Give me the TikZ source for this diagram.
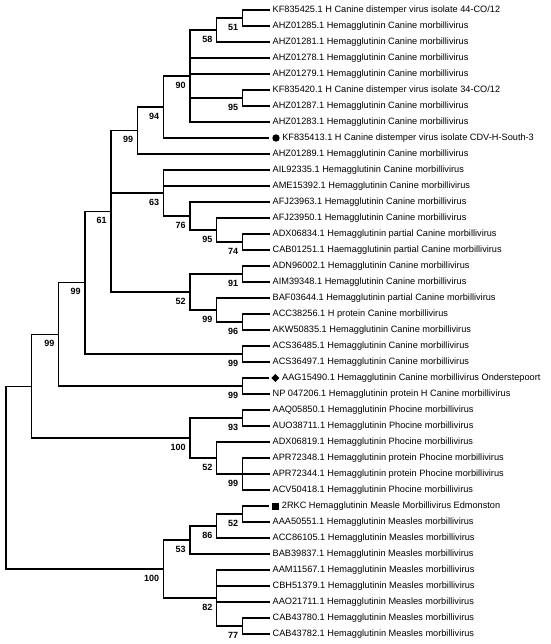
\documentclass[tikz,border=0pt]{standalone}
\usepackage{fontspec}
\setmainfont{Liberation Sans}
\usetikzlibrary{positioning}
\usetikzlibrary{shapes.geometric}
\tikzset{every picture/.style={line width=1.3pt}}
\tikzset{
  leaf/.style={anchor=west,inner xsep=2.5pt,inner ysep=0pt,text height=6.6pt,text depth=1.9pt,font=\fontsize{9.2}{11}\selectfont},
  mleaf/.style={leaf,inner xsep=0pt},
  boot/.style={inner sep=0pt,font=\bfseries\fontsize{9}{10}\selectfont},
  tipmark/.style={fill=black,draw=none,inner sep=0pt},
  tomark/.style={shorten >=2.5pt}
}

\begin{document}
\begin{tikzpicture}[x=1pt,y=1pt,yscale=-1,xscale=1]
\useasboundingbox (0,0) rectangle (550,644);

% Leaf Text Nodes
\node[leaf] (l1) at (269.5,10) {KF835425.1 H Canine distemper virus isolate 44-CO/12};
\node[leaf] (l2) at (269.5,26) {AHZ01285.1 Hemagglutinin Canine morbillivirus};
\node[leaf] (l3) at (269.5,42) {AHZ01281.1 Hemagglutinin Canine morbillivirus};
\node[leaf] (l4) at (269.5,58) {AHZ01278.1 Hemagglutinin Canine morbillivirus};
\node[leaf] (l5) at (269.5,74) {AHZ01279.1 Hemagglutinin Canine morbillivirus};
\node[leaf] (l6) at (269.5,90) {KF835420.1 H Canine distemper virus isolate 34-CO/12};
\node[leaf] (l7) at (269.5,106) {AHZ01287.1 Hemagglutinin Canine morbillivirus};
\node[leaf] (l8) at (269.5,122) {AHZ01283.1 Hemagglutinin Canine morbillivirus};
\node[tipmark,circle,minimum size=7.4pt] (m9) at (276,138) {};
\node[mleaf,right=1.3pt of m9] (l9) {KF835413.1 H Canine distemper virus isolate CDV-H-South-3};
\node[leaf] (l10) at (269.5,154) {AHZ01289.1 Hemagglutinin Canine morbillivirus};
\node[leaf] (l11) at (269.5,170) {AIL92335.1 Hemagglutinin Canine morbillivirus};
\node[leaf] (l12) at (269.5,186) {AME15392.1 Hemagglutinin Canine morbillivirus};
\node[leaf] (l13) at (269.5,202) {AFJ23963.1 Hemagglutinin Canine morbillivirus};
\node[leaf] (l14) at (269.5,218) {AFJ23950.1 Hemagglutinin Canine morbillivirus};
\node[leaf] (l15) at (269.5,234) {ADX06834.1 Hemagglutinin partial Canine morbillivirus};
\node[leaf] (l16) at (269.5,250) {CAB01251.1 Haemagglutinin partial Canine morbillivirus};
\node[leaf] (l17) at (269.5,266) {ADN96002.1 Hemagglutinin Canine morbillivirus};
\node[leaf] (l18) at (269.5,282) {AIM39348.1 Hemagglutinin Canine morbillivirus};
\node[leaf] (l19) at (269.5,298) {BAF03644.1 Hemagglutinin partial Canine morbillivirus};
\node[leaf] (l20) at (269.5,314) {ACC38256.1 H protein Canine morbillivirus};
\node[leaf] (l21) at (269.5,330) {AKW50835.1 Hemagglutinin Canine morbillivirus};
\node[leaf] (l22) at (269.5,346) {ACS36485.1 Hemagglutinin Canine morbillivirus};
\node[leaf] (l23) at (269.5,362) {ACS36497.1 Hemagglutinin Canine morbillivirus};
\node[tipmark,diamond,minimum size=8.6pt] (m24) at (275.3,378) {};
\node[mleaf,right=1.3pt of m24] (l24) {AAG15490.1 Hemagglutinin Canine morbillivirus Onderstepoort};
\node[leaf] (l25) at (269.5,394) {NP 047206.1 Hemagglutinin protein H Canine morbillivirus};
\node[leaf] (l26) at (269.5,410) {AAQ05850.1 Hemagglutinin Phocine morbillivirus};
\node[leaf] (l27) at (269.5,426) {AUO38711.1 Hemagglutinin Phocine morbillivirus};
\node[leaf] (l28) at (269.5,442) {ADX06819.1 Hemagglutinin Phocine morbillivirus};
\node[leaf] (l29) at (269.5,458) {APR72348.1 Hemagglutinin protein Phocine morbillivirus};
\node[leaf] (l30) at (269.5,474) {APR72344.1 Hemagglutinin protein Phocine morbillivirus};
\node[leaf] (l31) at (269.5,490) {ACV50418.1 Hemagglutinin Phocine morbillivirus};
\node[tipmark,rectangle,minimum size=7pt] (m32) at (275.8,506) {};
\node[mleaf,right=1.3pt of m32] (l32) {2RKC Hemagglutinin Measle Morbillivirus Edmonston};
\node[leaf] (l33) at (269.5,522) {AAA50551.1 Hemagglutinin Measles morbillivirus};
\node[leaf] (l34) at (269.5,538) {ACC86105.1 Hemagglutinin Measles morbillivirus};
\node[leaf] (l35) at (269.5,554) {BAB39837.1 Hemagglutinin Measles morbillivirus};
\node[leaf] (l36) at (269.5,570) {AAM11567.1 Hemagglutinin Measles morbillivirus};
\node[leaf] (l37) at (269.5,586) {CBH51379.1 Hemagglutinin Measles morbillivirus};
\node[leaf] (l38) at (269.5,602) {AAO21711.1 Hemagglutinin Measles morbillivirus};
\node[leaf] (l39) at (269.5,618) {CAB43780.1 Hemagglutinin Measles morbillivirus};
\node[leaf] (l40) at (269.5,634) {CAB43782.1 Hemagglutinin Measles morbillivirus};

% Inner nodes (canine)
\coordinate (n51) at (242.3,18);
\coordinate (n58) at (216.7,30);
\coordinate (n95a) at (242.3,98);
\coordinate (n90) at (190,76);
\coordinate (n94) at (163.3,107);
\coordinate (n99a) at (137.3,130.5);
\coordinate (n74) at (242.3,242);
\coordinate (n95b) at (216.7,230);
\coordinate (n76) at (190,216);
\coordinate (n63) at (163.3,193);
\coordinate (n91) at (242.3,274);
\coordinate (n96) at (242.3,322);
\coordinate (n99b) at (216.7,310);
\coordinate (n52a) at (190,292);
\coordinate (n61) at (111,211.25);
\coordinate (n99c) at (242.3,354);
\coordinate (n99d) at (85,282.6);
\coordinate (n99e) at (242.3,386);
\coordinate (n99f) at (58.7,334.3);
% Inner nodes (phocine)
\coordinate (n93) at (242.3,418);
\coordinate (n99g) at (242.3,474);
\coordinate (n52b) at (216.7,458);
\coordinate (n100a) at (190,438);
\coordinate (n99h) at (31.7,386.2);
% Inner nodes (measles)
\coordinate (n52c) at (242.3,514);
\coordinate (n86) at (216.7,526);
\coordinate (n53) at (190,540);
\coordinate (n77) at (242.3,626);
\coordinate (n82) at (216.7,598);
\coordinate (n100b) at (163.3,569);
\coordinate (root) at (6,477.6);

%Straight Lines
\draw (n51) |- (l1.west);
\draw (n51) |- (l2.west);
\draw (n58) |- (n51);
\draw (n58) |- (l3.west);
\draw (n95a) |- (l6.west);
\draw (n95a) |- (l7.west);
\draw (n90) |- (n58);
\draw (n90) |- (l4.west);
\draw (n90) |- (l5.west);
\draw (n90) |- (n95a);
\draw (n90) |- (l8.west);
\draw (n94) |- (n90);
\draw [tomark] (n94) |- (m9.west);
\draw (n99a) |- (n94);
\draw (n99a) |- (l10.west);
\draw (n74) |- (l15.west);
\draw (n74) |- (l16.west);
\draw (n95b) |- (l14.west);
\draw (n95b) |- (n74);
\draw (n76) |- (l13.west);
\draw (n76) |- (n95b);
\draw (n63) |- (l11.west);
\draw (n63) |- (l12.west);
\draw (n63) |- (n76);
\draw (n91) |- (l17.west);
\draw (n91) |- (l18.west);
\draw (n96) |- (l20.west);
\draw (n96) |- (l21.west);
\draw (n99b) |- (l19.west);
\draw (n99b) |- (n96);
\draw (n52a) |- (n91);
\draw (n52a) |- (n99b);
\draw (n61) |- (n99a);
\draw (n61) |- (n63);
\draw (n61) |- (n52a);
\draw (n99c) |- (l22.west);
\draw (n99c) |- (l23.west);
\draw (n99d) |- (n61);
\draw (n99d) |- (n99c);
\draw [shorten >=1pt] (n99e) |- (m24.west);
\draw (n99e) |- (l25.west);
\draw (n99f) |- (n99d);
\draw (n99f) |- (n99e);
\draw (n93) |- (l26.west);
\draw (n93) |- (l27.west);
\draw (n99g) |- (l29.west);
\draw (n99g) -- (l30.west);
\draw (n99g) |- (l31.west);
\draw (n52b) |- (l28.west);
\draw (n52b) |- (n99g);
\draw (n100a) |- (n93);
\draw (n100a) |- (n52b);
\draw (n99h) |- (n99f);
\draw (n99h) |- (n100a);
\draw [tomark] (n52c) |- (m32.west);
\draw (n52c) |- (l33.west);
\draw (n86) |- (n52c);
\draw (n86) |- (l34.west);
\draw (n53) |- (n86);
\draw (n53) |- (l35.west);
\draw (n77) |- (l39.west);
\draw (n77) |- (l40.west);
\draw (n82) |- (l36.west);
\draw (n82) |- (l37.west);
\draw (n82) |- (l38.west);
\draw (n82) |- (n77);
\draw (n100b) |- (n53);
\draw (n100b) |- (n82);
\draw (root) |- (n99h);
\draw (root) |- (n100b);

% Text Node (bootstrap values)
\node[boot,left=3.6pt of n51,yshift=-9pt] (b51) {51};
\node[boot,left=3.6pt of n58,yshift=-9pt] (b58) {58};
\node[boot,left=3.6pt of n95a,yshift=-9pt] (b95a) {95};
\node[boot,left=3.6pt of n90,yshift=-9pt] (b90) {90};
\node[boot,left=3.6pt of n94,yshift=-9pt] (b94) {94};
\node[boot,left=3.6pt of n99a,yshift=-9pt] (b99a) {99};
\node[boot,left=3.6pt of n74,yshift=-9pt] (b74) {74};
\node[boot,left=3.6pt of n95b,yshift=-9pt] (b95b) {95};
\node[boot,left=3.6pt of n76,yshift=-9pt] (b76) {76};
\node[boot,left=3.6pt of n63,yshift=-9pt] (b63) {63};
\node[boot,left=3.6pt of n91,yshift=-9pt] (b91) {91};
\node[boot,left=3.6pt of n96,yshift=-9pt] (b96) {96};
\node[boot,left=3.6pt of n99b,yshift=-9pt] (b99b) {99};
\node[boot,left=3.6pt of n52a,yshift=-9pt] (b52a) {52};
\node[boot,left=3.6pt of n61,yshift=-9pt] (b61) {61};
\node[boot,left=3.6pt of n99c,yshift=-9pt] (b99c) {99};
\node[boot,left=3.6pt of n99d,yshift=-9pt] (b99d) {99};
\node[boot,left=3.6pt of n99e,yshift=-9pt] (b99e) {99};
\node[boot,left=3.6pt of n99f,yshift=-9pt] (b99f) {99};
\node[boot,left=3.6pt of n93,yshift=-9pt] (b93) {93};
\node[boot,left=3.6pt of n99g,yshift=-9pt] (b99g) {99};
\node[boot,left=3.6pt of n52b,yshift=-9pt] (b52b) {52};
\node[boot,left=3.6pt of n100a,yshift=-9pt] (b100a) {100};
\node[boot,left=3.6pt of n52c,yshift=-9pt] (b52c) {52};
\node[boot,left=3.6pt of n86,yshift=-9pt] (b86) {86};
\node[boot,left=3.6pt of n53,yshift=-9pt] (b53) {53};
\node[boot,left=3.6pt of n77,yshift=-9pt] (b77) {77};
\node[boot,left=3.6pt of n82,yshift=-9pt] (b82) {82};
\node[boot,left=3.6pt of n100b,yshift=-9pt] (b100b) {100};

\end{tikzpicture}
\end{document}
